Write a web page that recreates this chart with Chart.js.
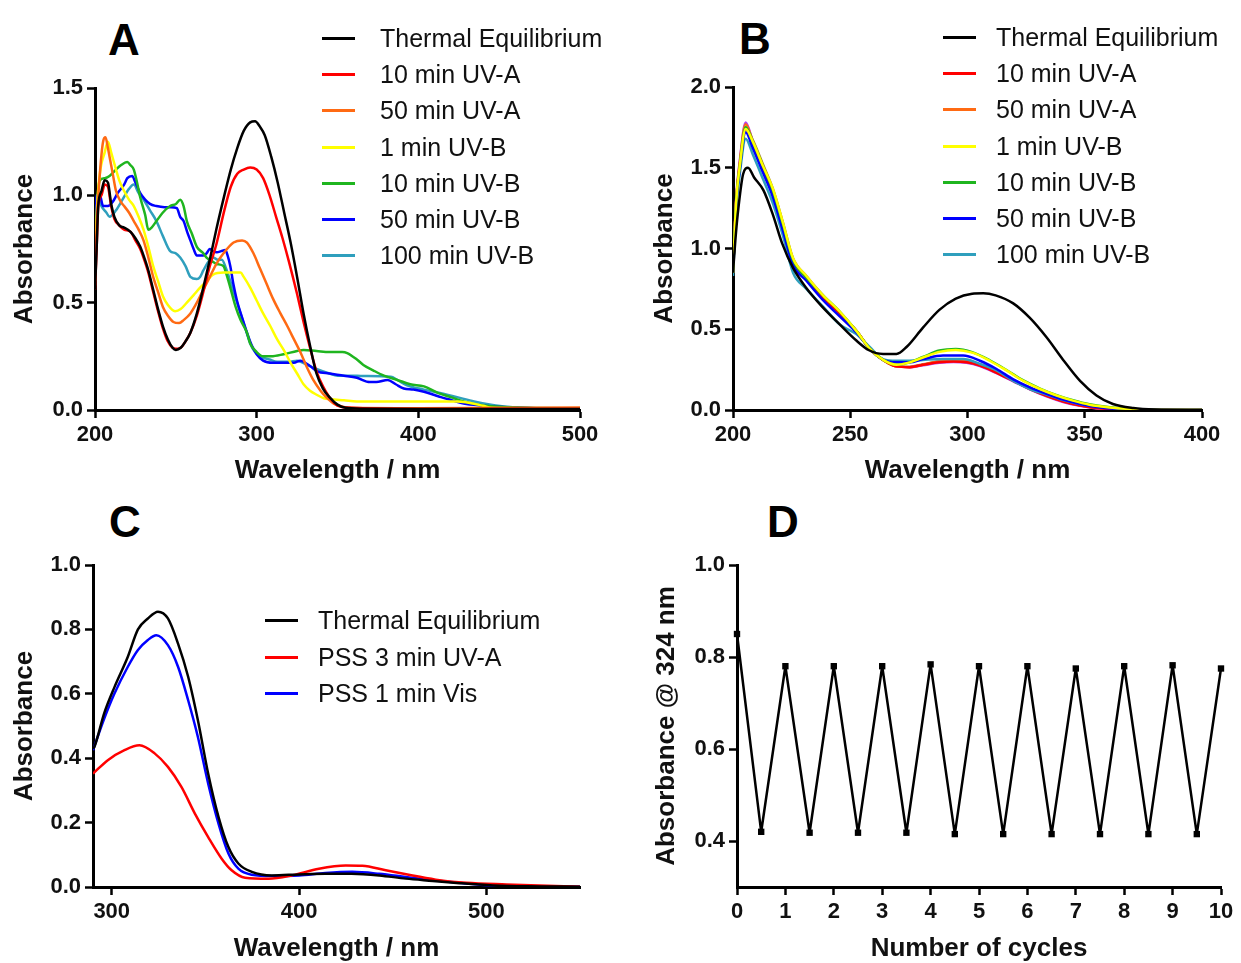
<!DOCTYPE html>
<html lang="en">
<head>
<meta charset="UTF-8">
<title>Photoswitch spectra</title>
<script src="https://cdn.jsdelivr.net/npm/chart.js@4.4.0/dist/chart.umd.min.js"></script>
<style>
  html, body { margin: 0; padding: 0; background: #fff; overflow: hidden; }
  body { width: 1241px; height: 963px; position: relative; font-family: "Liberation Sans", Arial, sans-serif; }
  .panel { position: absolute; }
  .letter { position: absolute; font: bold 44px "Liberation Sans", Arial, sans-serif; color: #000; transform: translate(-50%, -50%); }
  .legend { position: absolute; font: 25px "Liberation Sans", Arial, sans-serif; color: #111; }
  .legend .row { display: flex; align-items: center; white-space: nowrap; }
  .legend .swatch { display: inline-block; width: 33px; height: 3px; }
</style>
</head>
<body>
  <div class="letter" style="left:124px; top:40px">A</div>
  <div class="letter" style="left:755px; top:39px">B</div>
  <div class="letter" style="left:125px; top:522px">C</div>
  <div class="letter" style="left:783px; top:522px">D</div>

  <div class="panel" style="left:9px; top:68px"><canvas id="chartA" width="596" height="418"></canvas></div>
  <div class="panel" style="left:649px; top:67px"><canvas id="chartB" width="578" height="419"></canvas></div>
  <div class="panel" style="left:9px; top:545px"><canvas id="chartC" width="596" height="419"></canvas></div>
  <div class="panel" style="left:651px; top:545px"><canvas id="chartD" width="590" height="419"></canvas></div>

  <div class="legend" id="legendA" style="left:322px; top:20px"></div>
  <div class="legend" id="legendB" style="left:943px; top:19px"></div>
  <div class="legend" id="legendC" style="left:265px; top:602px"></div>

<script>
// ---- Panel A: UV-A / UV-B irradiation ----
const A_thermal = [[200,0.56],[201,0.75],[202,0.95],[204,1.02],[206,1.07],[208,1.06],[210,0.96],[212,0.9],[215,0.86],[218,0.85],[222,0.83],[225,0.8],[228,0.76],[230,0.72],[233,0.65],[236,0.56],[239,0.47],[242,0.39],[245,0.33],[248,0.29],[250,0.28],[253,0.29],[256,0.32],[259,0.36],[263,0.45],[267,0.57],[271,0.7],[275,0.84],[280,1.0],[284,1.12],[288,1.22],[292,1.3],[296,1.34],[299,1.345],[302,1.32],[305,1.28],[309,1.18],[313,1.06],[317,0.92],[321,0.78],[325,0.62],[329,0.45],[333,0.3],[337,0.17],[341,0.1],[345,0.06],[350,0.025],[355,0.01],[365,0.006],[400,0.005],[500,0.005]];
const A_uva10 = [[200,0.56],[201,0.75],[202,0.95],[204,1.0],[206,1.05],[208,1.04],[210,0.95],[212,0.89],[215,0.86],[218,0.84],[222,0.83],[225,0.79],[228,0.75],[230,0.71],[233,0.64],[236,0.55],[239,0.46],[242,0.38],[245,0.32],[248,0.29],[250,0.285],[253,0.29],[256,0.32],[259,0.36],[263,0.44],[267,0.55],[271,0.67],[275,0.77],[280,0.93],[284,1.04],[288,1.1],[292,1.12],[296,1.13],[300,1.12],[304,1.08],[308,1.0],[312,0.9],[316,0.8],[320,0.69],[325,0.54],[329,0.41],[333,0.29],[337,0.18],[341,0.11],[345,0.06],[350,0.02],[358,0.01],[400,0.005],[500,0.005]];
const A_uva50 = [[200,0.58],[201,0.85],[203,1.1],[205,1.25],[206.5,1.27],[208,1.22],[209,1.18],[211,1.1],[213,1.02],[216,0.97],[218,0.95],[221,0.92],[224,0.88],[227,0.84],[230,0.79],[233,0.71],[236,0.62],[239,0.55],[242,0.48],[245,0.44],[248.5,0.41],[252,0.405],[255,0.42],[259,0.45],[263,0.5],[267,0.56],[271,0.62],[275,0.68],[279.5,0.73],[285.7,0.78],[291,0.79],[294,0.78],[298,0.73],[302,0.66],[306,0.59],[310,0.52],[314.7,0.45],[319,0.39],[323,0.33],[327,0.27],[331,0.2],[335,0.14],[339.5,0.09],[343,0.06],[347.7,0.03],[353,0.015],[358,0.01],[400,0.008],[500,0.012]];
const A_uvb1 = [[200,0.6],[201,0.9],[203,1.1],[206,1.2],[208,1.25],[210,1.2],[213,1.12],[215,1.07],[218,1.02],[221,0.98],[224,0.95],[227,0.9],[230,0.84],[233,0.76],[236,0.67],[239,0.6],[242,0.53],[245,0.49],[249.5,0.46],[253,0.47],[256.8,0.5],[261,0.535],[265,0.57],[269,0.6],[273,0.63],[279.5,0.64],[285,0.64],[290,0.64],[292,0.62],[296,0.57],[300,0.51],[304,0.45],[308.5,0.39],[312.6,0.33],[316.7,0.28],[321,0.22],[325,0.17],[329,0.12],[333,0.09],[337.4,0.07],[341.5,0.055],[345.7,0.05],[354,0.045],[362,0.04],[400,0.04],[424,0.04],[440,0.02],[445,0.01],[470,0.008],[500,0.008]];
const A_uvb10 = [[200,0.6],[201,0.9],[203,1.07],[206,1.08],[209,1.09],[213,1.12],[216,1.14],[220,1.155],[222,1.14],[224,1.12],[226,1.06],[228,0.99],[231,0.91],[233,0.84],[235,0.85],[238,0.88],[242,0.92],[246.5,0.95],[250,0.96],[252.7,0.98],[254.8,0.95],[256.8,0.88],[260,0.82],[263,0.76],[267,0.73],[269,0.71],[273,0.69],[275.4,0.68],[279.5,0.67],[281,0.64],[283.7,0.57],[287,0.48],[290,0.42],[294,0.36],[296,0.31],[300,0.27],[304,0.25],[309,0.25],[316.7,0.26],[325,0.275],[329,0.28],[337,0.275],[345,0.27],[353,0.27],[356,0.265],[362,0.235],[366,0.21],[372,0.185],[378.7,0.16],[387,0.14],[395,0.12],[403.5,0.11],[412,0.08],[420,0.06],[428,0.04],[437,0.025],[445,0.018],[465.5,0.01],[500,0.008]];
const A_uvb50 = [[200,0.6],[201,1.0],[203,1.0],[205,0.95],[208,0.95],[211,0.97],[214,1.01],[218,1.05],[220,1.08],[223,1.09],[225,1.06],[228,1.01],[231,0.98],[234,0.96],[238,0.95],[243,0.945],[247,0.945],[250.6,0.94],[252.7,0.9],[254.8,0.88],[257,0.83],[259,0.79],[261,0.75],[263,0.72],[267,0.72],[269,0.73],[271,0.75],[273,0.74],[275.4,0.735],[278,0.74],[280.6,0.745],[282,0.72],[283.7,0.67],[285.5,0.59],[287.8,0.51],[291,0.43],[294,0.36],[297,0.3],[300,0.26],[304,0.23],[310,0.22],[318,0.22],[323,0.22],[327,0.23],[333,0.205],[337.4,0.18],[345,0.17],[354,0.16],[362,0.15],[370,0.13],[374,0.13],[381,0.14],[386,0.12],[391,0.1],[397,0.095],[403.5,0.085],[410,0.07],[414,0.06],[421,0.045],[428,0.03],[440,0.02],[449,0.015],[471.7,0.008],[500,0.005]];
const A_uvb100 = [[200,0.6],[201,0.95],[202,0.99],[204,0.95],[207,0.92],[209,0.9],[213,0.93],[217,0.98],[221,1.03],[224,1.05],[227,1.01],[230,0.98],[234,0.93],[238,0.88],[242,0.81],[246.5,0.74],[250,0.73],[252.7,0.71],[256,0.67],[259,0.62],[263,0.61],[265,0.62],[267,0.65],[271,0.7],[273,0.71],[276,0.7],[278.5,0.7],[281,0.66],[283.7,0.6],[287,0.52],[290,0.45],[293,0.38],[296,0.31],[299,0.27],[302,0.25],[308,0.235],[312.6,0.225],[320,0.225],[325,0.23],[330,0.215],[337.4,0.19],[345,0.17],[350,0.16],[358,0.16],[366,0.158],[383,0.155],[387,0.14],[393,0.115],[403.5,0.095],[414,0.078],[424,0.06],[434.5,0.04],[445,0.025],[455,0.015],[476,0.008],[500,0.006]];
const A_labels = ["Thermal Equilibrium", "10 min UV-A", "50 min UV-A", "1 min UV-B", "10 min UV-B", "50 min UV-B", "100 min UV-B"];
const A_xTicks = [200, 300, 400, 500];
const A_yTicks = [0, 0.5, 1.0, 1.5];

// ---- Panel B ----
const B_thermal = [[200,0.85],[201,1.05],[202,1.21],[204.3,1.46],[206.4,1.5],[209,1.44],[213,1.36],[217,1.21],[221,1.03],[225.6,0.88],[231,0.76],[238,0.64],[245.5,0.53],[252.6,0.43],[258,0.37],[264,0.347],[269.7,0.347],[274,0.39],[281,0.51],[288,0.62],[295,0.69],[302,0.72],[306.7,0.723],[312,0.71],[319.5,0.66],[326.6,0.57],[333.7,0.45],[340.8,0.31],[348,0.18],[355,0.09],[362,0.037],[370.7,0.012],[380,0.003],[400,0]];
const B_uva10 = [[200,0.85],[201.4,1.3],[202.8,1.5],[205.4,1.74],[208.5,1.64],[212.8,1.49],[217,1.35],[221.3,1.14],[225.6,0.93],[231.3,0.82],[238.4,0.7],[245.5,0.6],[252.6,0.49],[258.3,0.38],[264,0.31],[269.7,0.27],[275.4,0.265],[281,0.28],[288,0.295],[294,0.3],[299.6,0.295],[305.3,0.275],[312.4,0.23],[319.5,0.18],[326.6,0.13],[333.7,0.088],[340.8,0.053],[348,0.028],[355,0.012],[362,0.005],[375,0],[400,0]];
const B_uva50 = [[200,0.85],[201.4,1.31],[202.8,1.52],[205.4,1.77],[208.5,1.66],[212.8,1.51],[217,1.36],[221.3,1.15],[225.6,0.93],[231.3,0.82],[238.4,0.7],[245.5,0.6],[252.6,0.49],[258.3,0.38],[264,0.31],[269.7,0.27],[275.4,0.265],[281,0.28],[288,0.3],[294,0.305],[299.6,0.3],[305.3,0.28],[312.4,0.235],[319.5,0.185],[326.6,0.135],[333.7,0.09],[340.8,0.055],[348,0.03],[355,0.013],[362,0.005],[375,0],[400,0]];
const B_uvb1 = [[200,0.85],[201.4,1.3],[202.8,1.5],[205.4,1.74],[208.5,1.66],[212.8,1.51],[217,1.37],[221.3,1.16],[225.6,0.94],[231.3,0.83],[238.4,0.71],[245.5,0.61],[252.6,0.49],[258.3,0.38],[264,0.31],[269.7,0.28],[275.4,0.295],[281,0.325],[288,0.36],[295,0.372],[302,0.355],[309.5,0.305],[316.6,0.245],[323.8,0.18],[330.9,0.13],[338,0.09],[345,0.058],[352,0.033],[360.7,0.016],[370.7,0.005],[380,0],[400,0]];
const B_uvb10 = [[200,0.85],[201.4,1.3],[202.8,1.5],[205.4,1.75],[208.5,1.66],[212.8,1.51],[217,1.36],[221.3,1.15],[225.6,0.93],[231.3,0.82],[238.4,0.71],[245.5,0.61],[252.6,0.49],[258.3,0.38],[264,0.31],[269.7,0.28],[275.4,0.295],[281,0.328],[288,0.368],[295,0.378],[302,0.358],[309.5,0.308],[316.6,0.248],[323.8,0.183],[330.9,0.133],[338,0.092],[345,0.06],[352,0.035],[360.7,0.017],[370.7,0.006],[380,0],[400,0]];
const B_uvb50 = [[200,0.85],[201.4,1.28],[202.8,1.48],[205.4,1.72],[208.5,1.62],[212.8,1.47],[217,1.32],[221.3,1.11],[225.6,0.9],[231.3,0.8],[238.4,0.68],[245.5,0.58],[252.6,0.48],[258.3,0.38],[264,0.31],[269.7,0.295],[275.4,0.295],[281,0.315],[289.6,0.337],[298.2,0.337],[305.3,0.305],[312.4,0.254],[319.5,0.19],[326.6,0.14],[333.7,0.1],[340.8,0.064],[348,0.037],[356.5,0.016],[366.4,0.004],[380,0],[400,0]];
const B_uvb100 = [[200,0.83],[201.4,1.25],[202.8,1.45],[205.4,1.68],[208.5,1.58],[212.8,1.43],[217,1.28],[221.3,1.08],[225.6,0.85],[231.3,0.75],[238.4,0.64],[245.5,0.53],[252.6,0.47],[258.3,0.39],[264,0.315],[269.7,0.305],[275.4,0.305],[281,0.31],[289.6,0.316],[298.2,0.316],[305.3,0.285],[312.4,0.245],[319.5,0.18],[326.6,0.13],[333.7,0.095],[340.8,0.062],[348,0.037],[356.5,0.02],[366.4,0.008],[375,0.002],[400,0]];
const B_extra1 = [[200,0.86],[201.4,1.32],[202.8,1.53],[205.4,1.78],[208.5,1.66],[212.8,1.5],[217,1.35],[221.3,1.14],[225.6,0.93],[231.3,0.82],[238.4,0.7],[245.5,0.6],[252.6,0.49],[258.3,0.38],[264,0.31],[269.7,0.27],[275.4,0.265],[281,0.277],[288,0.292],[294,0.297],[299.6,0.292],[305.3,0.272],[312.4,0.228],[319.5,0.178],[326.6,0.128],[333.7,0.085],[340.8,0.05],[348,0.026],[355,0.01],[362,0.004],[375,0],[400,0]];
const B_extra2 = [[200,0.85],[201.4,1.3],[202.8,1.51],[205.4,1.75],[208.5,1.67],[212.8,1.52],[217,1.37],[221.3,1.16],[225.6,0.94],[231.3,0.83],[238.4,0.71],[245.5,0.6],[252.6,0.49],[258.3,0.38],[264,0.31],[269.7,0.27],[275.4,0.268],[281,0.283],[288,0.302],[294,0.308],[299.6,0.302],[305.3,0.282],[312.4,0.238],[319.5,0.188],[326.6,0.138],[333.7,0.092],[340.8,0.056],[348,0.03],[355,0.013],[362,0.005],[375,0],[400,0]];
const B_labels = ["Thermal Equilibrium", "10 min UV-A", "50 min UV-A", "1 min UV-B", "10 min UV-B", "50 min UV-B", "100 min UV-B"];
const B_xTicks = [200, 250, 300, 350, 400];
const B_yTicks = [0, 0.5, 1.0, 1.5, 2.0];

// ---- Panel C: PSS ----
const C_thermal = [[290,0.43],[290.7,0.435],[296,0.54],[301.4,0.62],[308.6,0.715],[314,0.8],[319.3,0.834],[324.7,0.855],[330,0.834],[335.4,0.756],[340.8,0.653],[346,0.518],[351.5,0.352],[357,0.218],[362.3,0.124],[367.6,0.073],[374.8,0.047],[385.5,0.036],[400,0.039],[414,0.041],[428,0.041],[442.8,0.036],[457,0.026],[471.4,0.019],[485.7,0.012],[503.6,0.005],[521.5,0.002],[550,0.001]];
const C_pssUva = [[290,0.352],[297.9,0.394],[306.8,0.425],[314.8,0.44],[322.9,0.415],[330,0.373],[337.2,0.311],[344.4,0.228],[351.5,0.155],[358.7,0.088],[364,0.052],[371.2,0.029],[383.7,0.026],[396,0.036],[410.6,0.057],[424.9,0.067],[433.8,0.066],[446.3,0.052],[460.6,0.036],[475,0.021],[489.3,0.013],[510.7,0.008],[550,0.001]];
const C_pssVis = [[290,0.425],[296,0.523],[301.4,0.6],[308.6,0.684],[314,0.736],[319.3,0.767],[323.8,0.782],[330,0.751],[335.4,0.684],[340.8,0.58],[346,0.466],[351.5,0.321],[357,0.197],[362.3,0.104],[367.6,0.057],[374.8,0.038],[385.5,0.034],[400,0.036],[414,0.0435],[428.4,0.047],[442.8,0.041],[457,0.031],[471.4,0.021],[485.7,0.013],[503.6,0.005],[521.5,0.002],[550,0.001]];
const C_labels = ["Thermal Equilibrium", "PSS 3 min UV-A", "PSS 1 min Vis"];
const C_xTicks = [300, 400, 500];
const C_yTicks = [0, 0.2, 0.4, 0.6, 0.8, 1.0];

// ---- Panel D: switching cycles ----
const D_cycles = [0, 0.5, 1, 1.5, 2, 2.5, 3, 3.5, 4, 4.5, 5, 5.5, 6, 6.5, 7, 7.5, 8, 8.5, 9, 9.5, 10];
const D_abs324 = [0.85, 0.42, 0.78, 0.418, 0.78, 0.418, 0.78, 0.418, 0.784, 0.415, 0.78, 0.415, 0.78, 0.415, 0.775, 0.415, 0.78, 0.415, 0.782, 0.415, 0.775];
const D_xTicks = [0, 1, 2, 3, 4, 5, 6, 7, 8, 9, 10];
const D_yTicks = [0.4, 0.6, 0.8, 1.0];

const FONT = "'Liberation Sans', Arial, sans-serif";

function toXY(pairs) {
  return pairs.map(([x, y]) => ({ x: x, y: y }));
}

function line(label, pairs, color) {
  return {
    label: label,
    data: toXY(pairs),
    borderColor: color,
    backgroundColor: color,
    borderWidth: 2.5,
    borderJoinStyle: "round",
    pointRadius: 0,
    cubicInterpolationMode: "monotone",
    fill: false
  };
}

// shared axis look: black frame, outward ticks, no grid
function axis(min, max, ticks, title, decimals, fitSize, horizontal) {
  return {
    type: "linear",
    min: min,
    max: max,
    afterBuildTicks: (scale) => { scale.ticks = ticks.map(v => ({ value: v })); },
    afterFit: (scale) => {
      if (horizontal) scale.height = fitSize; else scale.width = fitSize;
    },
    border: { display: true, color: "#000", width: 3 },
    grid: { drawOnChartArea: false, drawTicks: true, tickLength: 8, tickWidth: 2.5, color: "#000" },
    ticks: {
      color: "#111",
      padding: 4,
      autoSkip: false,
      maxRotation: 0,
      font: { family: FONT, size: 22, weight: "bold" },
      callback: (v) => Number(v).toFixed(decimals)
    },
    title: {
      display: true,
      text: title,
      color: "#111",
      padding: 0,
      font: { family: FONT, size: 26, weight: "bold" }
    }
  };
}

function makeChart(id, datasets, xScale, yScale, padRight) {
  return new Chart(document.getElementById(id), {
    type: "line",
    data: { datasets: datasets },
    options: {
      responsive: false,
      animation: false,
      devicePixelRatio: 1,
      layout: { padding: { top: 20, right: padRight || 25, left: 0, bottom: 0 } },
      plugins: { legend: { display: false }, tooltip: { enabled: false } },
      scales: { x: xScale, y: yScale }
    }
  });
}

function buildLegend(id, labels, colors, step, gap) {
  const el = document.getElementById(id);
  labels.forEach((lab, i) => {
    const row = document.createElement("div");
    row.className = "row";
    row.style.height = step + "px";
    const sw = document.createElement("span");
    sw.className = "swatch";
    sw.style.background = colors[i];
    sw.style.marginRight = gap + "px";
    const tx = document.createElement("span");
    tx.textContent = lab;
    row.append(sw, tx);
    el.appendChild(row);
  });
}

const COL = {
  black: "#000000", red: "#ff0000", orange: "#ff6a13", yellow: "#ffff00",
  green: "#1fb51f", blue: "#0000ff", teal: "#2f9fbd", purple: "#b43cf0", brown: "#a57a3c"
};
const A_colors = [COL.black, COL.red, COL.orange, COL.yellow, COL.green, COL.blue, COL.teal];
const C_colors = [COL.black, COL.red, COL.blue];

document.addEventListener("DOMContentLoaded", () => {
  // Chart A
  makeChart("chartA", [
    line(A_labels[0], A_thermal, COL.black),
    line(A_labels[1], A_uva10, COL.red),
    line(A_labels[2], A_uva50, COL.orange),
    line(A_labels[3], A_uvb1, COL.yellow),
    line(A_labels[4], A_uvb10, COL.green),
    line(A_labels[5], A_uvb50, COL.blue),
    line(A_labels[6], A_uvb100, COL.teal)
  ],
  axis(200, 500, A_xTicks, "Wavelength / nm", 0, 76, true),
  axis(0, 1.5, A_yTicks, "Absorbance", 1, 86, false));

  // Chart B (two extra traces not listed in the legend)
  makeChart("chartB", [
    line(B_labels[0], B_thermal, COL.black),
    line(B_labels[3], B_uvb1, COL.yellow),
    line(B_labels[4], B_uvb10, COL.green),
    line(B_labels[5], B_uvb50, COL.blue),
    line(B_labels[6], B_uvb100, COL.teal),
    line(B_labels[1], B_uva10, COL.red),
    line(B_labels[2], B_uva50, COL.orange),
    line("", B_extra1, COL.purple),
    line("", B_extra2, COL.brown)
  ],
  axis(200, 400, B_xTicks, "Wavelength / nm", 0, 76, true),
  axis(0, 2.0, B_yTicks, "Absorbance", 1, 84, false));

  // Chart C
  makeChart("chartC", [
    line(C_labels[0], C_thermal, COL.black),
    line(C_labels[1], C_pssUva, COL.red),
    line(C_labels[2], C_pssVis, COL.blue)
  ],
  axis(290, 550, C_xTicks, "Wavelength / nm", 0, 77, true),
  axis(0, 1.0, C_yTicks, "Absorbance", 1, 84, false));

  // Chart D
  makeChart("chartD", [{
    label: "A324",
    data: D_cycles.map((c, i) => ({ x: c, y: D_abs324[i] })),
    borderColor: "#000",
    backgroundColor: "#000",
    borderWidth: 2.5,
    borderJoinStyle: "round",
    pointStyle: "rect",
    pointRadius: 4.5,
    pointBackgroundColor: "#000",
    pointBorderWidth: 0,
    tension: 0,
    clip: false
  }],
  axis(0, 10, D_xTicks, "Number of cycles", 0, 77, true),
  axis(0.3, 1.0, D_yTicks, "Absorbance @ 324 nm", 1, 86, false), 20);

  buildLegend("legendA", A_labels, A_colors, 36.3, 25);
  buildLegend("legendB", B_labels, A_colors, 36.3, 20);
  buildLegend("legendC", C_labels, C_colors, 36.7, 20);
});
</script>
</body>
</html>
